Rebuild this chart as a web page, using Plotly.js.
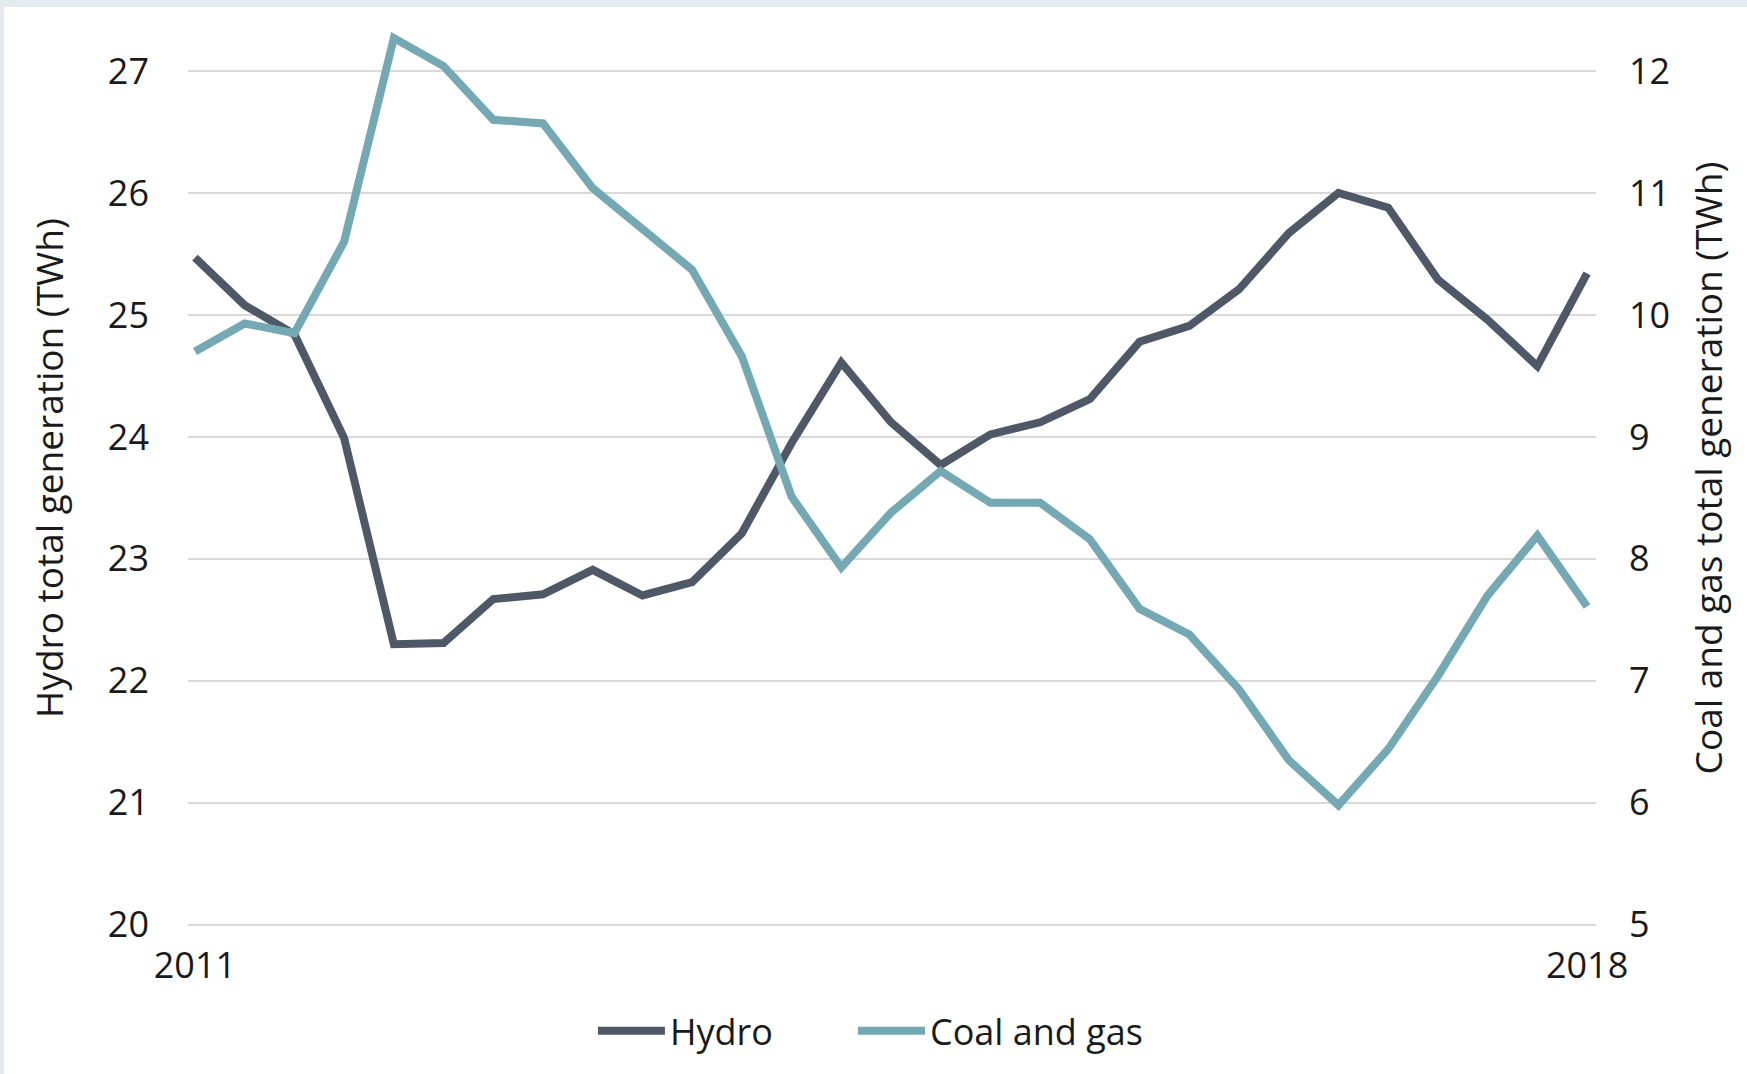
<!DOCTYPE html>
<html>
<head>
<meta charset="utf-8">
<script src="https://cdn.plot.ly/plotly-3.0.1.min.js"></script>
<style>
  html, body { margin: 0; padding: 0; background: #ffffff; }
  #frame { width: 1743px; height: 1067px; border-top: 7px solid #e4ebef; border-left: 4px solid #e4ebef; background: #ffffff; }
  #chart { width: 1743px; height: 1067px; }
</style>
</head>
<body>
<div id="frame"><div id="chart"></div></div>
<script>
// Quarterly periods, Q1 2011 to Q1 2018
const quarters = [
  "2011 Q1","2011 Q2","2011 Q3","2011 Q4",
  "2012 Q1","2012 Q2","2012 Q3","2012 Q4",
  "2013 Q1","2013 Q2","2013 Q3","2013 Q4",
  "2014 Q1","2014 Q2","2014 Q3","2014 Q4",
  "2015 Q1","2015 Q2","2015 Q3","2015 Q4",
  "2016 Q1","2016 Q2","2016 Q3","2016 Q4",
  "2017 Q1","2017 Q2","2017 Q3","2017 Q4",
  "2018 Q1"
];
// Hydro total generation (TWh), left axis
const hydro = [25.47, 25.08, 24.84, 23.99, 22.30, 22.31, 22.67, 22.71, 22.91, 22.70,
               22.81, 23.21, 23.95, 24.61, 24.12, 23.77, 24.02, 24.12, 24.31, 24.78,
               24.91, 25.21, 25.67, 26.00, 25.88, 25.29, 24.96, 24.58, 25.34];
// Coal and gas total generation (TWh), right axis
const coalGas = [9.70, 9.93, 9.85, 10.60, 12.27, 12.04, 11.60, 11.57, 11.04, 10.70,
                 10.37, 9.66, 8.51, 7.93, 8.38, 8.72, 8.46, 8.46, 8.16, 7.59,
                 7.38, 6.93, 6.35, 5.98, 6.44, 7.04, 7.70, 8.19, 7.61];
const xTickVals = ["2011 Q1", "2018 Q1"];
const xTickText = ["2011", "2018"];
const seriesNames = ["Hydro", "Coal and gas"];
const leftTitle = "Hydro total generation (TWh)";
const rightTitle = "Coal and gas total generation (TWh)";

const FONT = "'Open Sans', 'Noto Sans', sans-serif";
const INK = "#1a1a1a";

const traces = [
  { x: quarters, y: hydro, name: seriesNames[0], type: "scatter", mode: "lines",
    legend: "legend",
    line: { color: "#4f5867", width: 8, shape: "linear" }, yaxis: "y" },
  { x: quarters, y: coalGas, name: seriesNames[1], type: "scatter", mode: "lines",
    legend: "legend2",
    line: { color: "#74a8b2", width: 8, shape: "linear" }, yaxis: "y2" }
];

const legendCommon = {
  orientation: "h", xanchor: "left", y: -0.1146, yanchor: "middle",
  font: { family: FONT, size: 36, color: INK },
  itemwidth: 67, bgcolor: "rgba(0,0,0,0)"
};

const layout = {
  width: 1743, height: 1067,
  margin: { l: 184, r: 151, t: 3, b: 148, pad: 0 },
  paper_bgcolor: "#ffffff", plot_bgcolor: "#ffffff",
  font: { family: FONT, size: 36, color: INK },
  showlegend: true,
  legend: Object.assign({}, legendCommon, { x: 0.2876 }),
  legend2: Object.assign({}, legendCommon, { x: 0.4723 }),
  xaxis: {
    type: "category", categoryorder: "array", categoryarray: quarters,
    range: [-0.14, 28.18],
    tickmode: "array", tickvals: xTickVals, ticktext: xTickText,
    showgrid: false, zeroline: false, showline: false, ticks: "",
    ticklabelstandoff: 15,
    tickfont: { family: FONT, size: 36, color: INK }
  },
  yaxis: {
    range: [19.99, 27.5], tick0: 20, dtick: 1,
    showgrid: true, gridcolor: "#d9d9d9", gridwidth: 2,
    zeroline: false, showline: false, ticks: "",
    ticklabelstandoff: 38,
    tickfont: { family: FONT, size: 36, color: INK },
    title: { text: leftTitle, font: { family: FONT, size: 37, color: INK }, standoff: 32 }
  },
  yaxis2: {
    overlaying: "y", side: "right",
    range: [4.99, 12.5], tick0: 5, dtick: 1,
    showgrid: false, zeroline: false, showline: false, ticks: "",
    ticklabelstandoff: 32,
    tickfont: { family: FONT, size: 36, color: INK },
    title: { text: rightTitle, font: { family: FONT, size: 37, color: INK }, standoff: 26 }
  }
};

Plotly.newPlot("chart", traces, layout, { staticPlot: true, displayModeBar: false });
</script>
</body>
</html>
